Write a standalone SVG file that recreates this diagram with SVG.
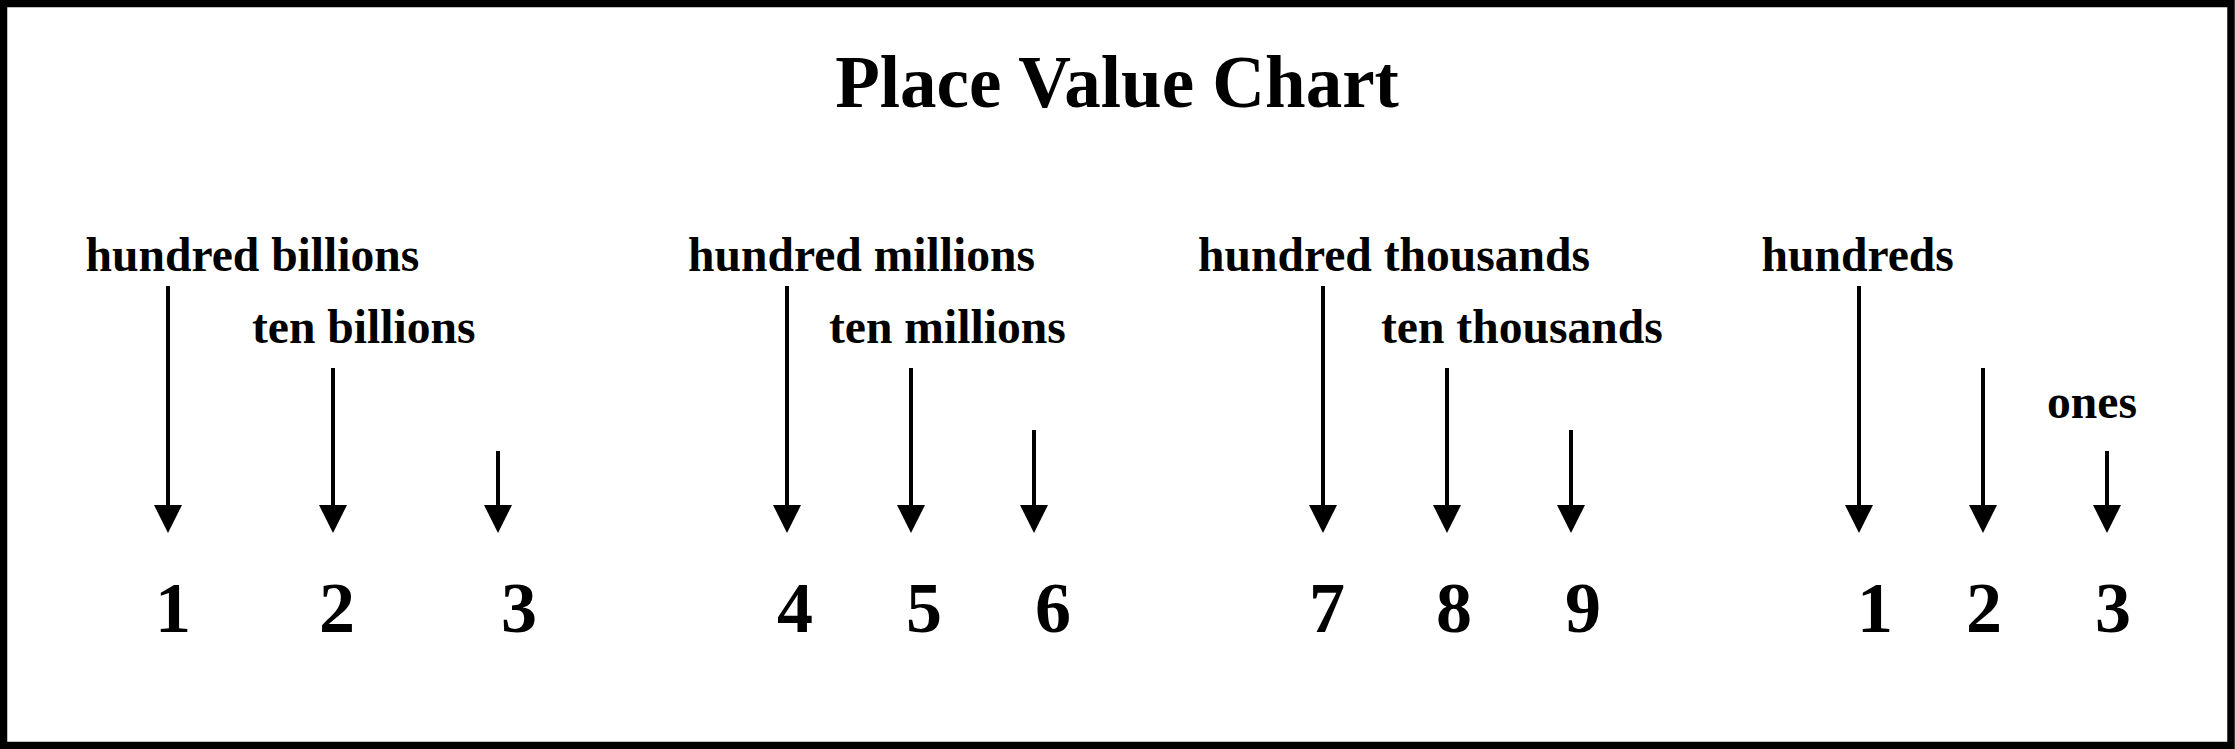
<svg xmlns="http://www.w3.org/2000/svg" width="2235" height="749" viewBox="0 0 2235 749">
  <style>
    .t { font-family: "Liberation Serif", "Times New Roman", serif; font-weight: bold; fill: #000; }
    .title { font-size: 73px; text-anchor: middle; }
    .lbl { font-size: 47.6px; }
    .num { font-size: 72px; text-anchor: middle; }
    .arr { stroke: #000; stroke-width: 4; fill: none; marker-end: url(#head); }
  </style>
  <defs>
    <marker id="head" markerUnits="userSpaceOnUse" markerWidth="28" markerHeight="28" viewBox="0 0 27 27" refX="0" refY="13.5" orient="auto">
      <path d="M0,0 L27,13.5 L0,27 Z" fill="#000"/>
    </marker>
  </defs>
  <rect x="0" y="0" width="2235" height="749" fill="#fff"/>
  <rect id="frame" x="3.5" y="3.5" width="2227.5" height="742" fill="none" stroke="#000" stroke-width="7.5"/>

  <g id="title"><text class="t title" x="1117" y="107">Place Value Chart</text></g>

  <g id="labels">
    <g id="lbl-hundred-billions"><text class="t lbl" x="85.5" y="270.5">hundred billions</text></g>
    <g id="lbl-ten-billions"><text class="t lbl" x="252" y="343">ten billions</text></g>
    <g id="lbl-hundred-millions"><text class="t lbl" x="688" y="270.5">hundred millions</text></g>
    <g id="lbl-ten-millions"><text class="t lbl" x="829" y="343">ten millions</text></g>
    <g id="lbl-hundred-thousands"><text class="t lbl" x="1198" y="270.5">hundred thousands</text></g>
    <g id="lbl-ten-thousands"><text class="t lbl" x="1381" y="343">ten thousands</text></g>
    <g id="lbl-hundreds"><text class="t lbl" x="1761.5" y="270.5">hundreds</text></g>
    <g id="lbl-ones"><text class="t lbl" x="2047" y="417.7">ones</text></g>
  </g>

  <g id="connectors">
    <line class="arr" x1="168" y1="286" x2="168" y2="505"/>
    <line class="arr" x1="333" y1="368" x2="333" y2="505"/>
    <line class="arr" x1="498" y1="451" x2="498" y2="505"/>
    <line class="arr" x1="787" y1="286" x2="787" y2="505"/>
    <line class="arr" x1="911" y1="368" x2="911" y2="505"/>
    <line class="arr" x1="1034" y1="430" x2="1034" y2="505"/>
    <line class="arr" x1="1323" y1="286" x2="1323" y2="505"/>
    <line class="arr" x1="1447" y1="368" x2="1447" y2="505"/>
    <line class="arr" x1="1571" y1="430" x2="1571" y2="505"/>
    <line class="arr" x1="1859" y1="286" x2="1859" y2="505"/>
    <line class="arr" x1="1983" y1="368" x2="1983" y2="505"/>
    <line class="arr" x1="2107" y1="451" x2="2107" y2="505"/>
  </g>

  <g id="digits">
    <g id="d1"><text class="t num" x="173" y="632">1</text></g>
    <g id="d2"><text class="t num" x="337" y="632">2</text></g>
    <g id="d3"><text class="t num" x="519" y="632">3</text></g>
    <g id="d4"><text class="t num" x="795" y="632">4</text></g>
    <g id="d5"><text class="t num" x="924" y="632">5</text></g>
    <g id="d6"><text class="t num" x="1053" y="632">6</text></g>
    <g id="d7"><text class="t num" x="1327" y="632">7</text></g>
    <g id="d8"><text class="t num" x="1454" y="632">8</text></g>
    <g id="d9"><text class="t num" x="1583" y="632">9</text></g>
    <g id="d10"><text class="t num" x="1875" y="632">1</text></g>
    <g id="d11"><text class="t num" x="1984" y="632">2</text></g>
    <g id="d12"><text class="t num" x="2113" y="632">3</text></g>
  </g>
</svg>
